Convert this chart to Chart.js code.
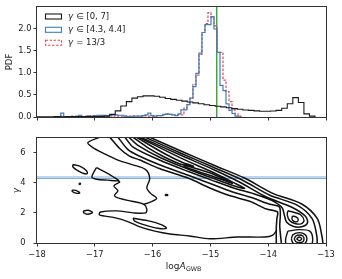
<!DOCTYPE html>
<html><head><meta charset="utf-8">
<script src="https://cdn.jsdelivr.net/npm/chart.js@4/dist/chart.umd.min.js"></script>
<style>
html,body{margin:0;padding:0;background:#fff;}
#wrap{position:relative;width:342px;height:279px;overflow:hidden;background:#fff;}
#c1{position:absolute;left:0;top:0;width:342px;height:125px;}
#c2{position:absolute;left:0;top:125px;width:342px;height:154px;}
</style></head><body>
<div id="wrap">
<canvas id="c1" width="342" height="125"></canvas>
<canvas id="c2" width="342" height="154"></canvas>
</div>
<script>
// ---------------- data ----------------
const xTicks = [-18, -17, -16, -15, -14, -13];
const pdfTicks = [0, 0.5, 1, 1.5, 2];
const gammaTicks = [0, 2, 4, 6];
const legendLabels = ['γ∈[0, 7]', 'γ∈[4.3, 4.4]', 'γ = 13/3'];
const trueLogA = -14.89;
const gammaBand = [4.3, 4.4];

// black histogram (gamma in [0,7])
const blackBinStart = -17.99, blackBinWidth = 0.096;
const blackPdf = [0.005,0.005,0.005,0.01,0.005,0.01,0.01,0.01,0.01,0.015,0.01,0.015,0.02,
  0.06,0.14,0.25,0.35,0.43,0.46,0.48,0.48,0.47,0.45,0.42,
  0.40,0.38,0.36,0.34,0.32,0.30,0.28,0.26,0.245,0.23,
  0.21,0.19,0.175,0.16,0.15,0.14,0.13,0.13,0.135,0.15,
  0.20,0.30,0.44,0.33,0.07,0.02];

// narrow-gamma histograms
const narrowBinStart = -17.59, narrowBinWidth = 0.052;
const bluePdf = [0.09,0.01,0.005,0.01,0.01,0.02,0.04,0.01,0.01,0.02,
  0.01,0.03,0.04,0.04,0.04,0.03,0.04,0.05,0.05,0.04,
  0.04,0.02,0.01,0.01,0.02,0.02,0.02,0.03,0.05,0.09,
  0.03,0.02,0.03,0.03,0.06,0.07,0.06,0.05,0.03,0.07,
  0.16,0.16,0.28,0.43,0.69,0.99,1.45,1.92,2.10,2.10,
  2.28,2.00,1.47,0.72,0.60,0.30,0.15,0.08,0.02,0.0];
const redPdf = [0.02,0.01,0.01,0.02,0.01,0.01,0.02,0.01,0.02,0.01,
  0.02,0.02,0.03,0.02,0.03,0.02,0.03,0.02,0.03,0.02,
  0.02,0.02,0.02,0.02,0.02,0.02,0.02,0.02,0.03,0.02,
  0.02,0.02,0.03,0.03,0.05,0.06,0.06,0.05,0.04,0.05,
  0.05,0.20,0.28,0.43,0.74,0.95,1.42,1.92,2.12,2.37,
  2.26,2.07,1.47,1.47,0.84,0.58,0.35,0.16,0.07,0.02];

// contour lines of the 2-D posterior (logA, gamma)
const contourOuterUpper = [[-16.05,7.05],[-15.5,6.12],[-14.95,5.2],[-14.41,4.33],[-13.92,3.31],[-13.42,2.6],[-13.15,1.62],[-13.07,0.45],[-13.05,-0.1]];
const contourOuterLower = [[-16.74,7.05],[-16.57,6.30],[-16.40,5.79],[-16.22,5.53],[-15.88,4.96],[-15.38,4.31],[-15.01,3.67],[-14.67,3.16],[-14.32,2.78],[-14.03,2.26],[-13.84,2.07],[-13.85,1.62],[-13.86,0.98],[-13.86,-0.1]];
const contourSecondUpper = [[-16.13,7.05],[-15.5,5.97],[-14.95,5.05],[-14.45,4.2],[-13.98,3.2],[-13.5,2.52],[-13.24,1.62],[-13.16,0.5],[-13.15,-0.1]];
const contourSecondLower = [[-16.60,7.05],[-16.43,6.24],[-16.26,5.85],[-15.88,5.21],[-15.38,4.51],[-14.98,3.93],[-14.63,3.42],[-14.29,3.03],[-13.97,2.58],[-13.81,2.42],[-13.79,1.94],[-13.80,1.11],[-13.77,-0.1]];
const contourThird = [[-16.21,7.05],[-15.5,5.83],[-14.95,4.9],[-14.5,4.07],[-14.05,3.1],[-13.6,2.4],[-13.36,1.8],[-13.32,1.35],[-13.42,1.08],[-13.56,1.1],[-13.68,1.38],[-13.72,1.85],[-13.76,2.35],[-13.94,2.84],[-14.25,3.29],[-14.6,3.67],[-14.98,4.19],[-15.38,4.76],[-15.88,5.53],[-16.33,6.37],[-16.48,7.05]];
const contourInner1 = [[-16.24,7.05],[-15.5,5.64],[-14.95,4.70],[-14.55,3.93],[-14.41,3.64],[-14.61,3.83],[-15.0,4.38],[-15.38,4.92],[-15.88,5.72],[-16.26,6.53],[-16.41,7.05]];
const contourInner2 = [[-16.28,7.05],[-15.79,5.95],[-15.48,5.37],[-15.29,5.12],[-15.48,5.21],[-15.79,5.72],[-16.05,6.27],[-16.34,7.05]];
const contourInner3 = [[-15.45,5.2],[-15.0,4.66],[-14.62,3.98],[-15.0,4.5],[-15.45,5.08],[-15.45,5.2]];
const lobeUpperOuter = [[-13.66,2.15],[-13.56,2.05],[-13.44,1.88],[-13.38,1.5],[-13.43,1.28],[-13.54,1.3],[-13.63,1.5],[-13.67,1.88],[-13.66,2.15]];
const lobeUpperInner = [[-13.58,1.80],[-13.52,1.74],[-13.48,1.58],[-13.50,1.42],[-13.56,1.46],[-13.59,1.62],[-13.58,1.80]];
const lobeLower0 = [[-13.66,0.79],[-13.47,0.89],[-13.28,0.79],[-13.23,0.21],[-13.28,-0.24],[-13.66,-0.24],[-13.70,0.21],[-13.66,0.79]];
const lobeLower1 = [[-13.60,0.28],[-13.57,0.56],[-13.46,0.69],[-13.36,0.56],[-13.33,0.28],[-13.36,-0.01],[-13.46,-0.14],[-13.57,-0.01],[-13.60,0.28]];
const lobeLower2 = [[-13.55,0.28],[-13.52,0.47],[-13.46,0.53],[-13.40,0.47],[-13.38,0.28],[-13.40,0.08],[-13.46,0.02],[-13.52,0.08],[-13.55,0.28]];
const lobeLower3 = [[-13.51,0.28],[-13.46,0.40],[-13.42,0.28],[-13.46,0.15],[-13.51,0.28]];
const wiggleA = [[-16.92,7.05],[-17.12,6.69],[-17.04,6.37],[-16.85,5.98],[-16.60,5.53],[-16.34,5.21],[-16.12,4.89],[-16.05,4.31],[-16.10,3.67],[-16.03,3.29],[-15.93,2.97],[-16.05,2.71],[-16.15,2.58]];
const lensB = [[-16.97,5.02],[-16.81,4.70],[-16.67,4.38],[-16.59,4.15],[-16.78,4.19],[-16.97,4.25],[-17.05,4.38],[-17.02,4.70],[-16.97,5.02]];
const wiggleC = [[-16.59,4.15],[-16.57,4.06],[-16.67,3.80],[-16.60,3.48],[-16.66,3.16],[-16.57,2.97],[-16.36,2.78],[-16.15,2.58],[-16.10,2.26],[-16.12,2.01],[-16.34,2.01],[-16.62,2.14],[-16.90,2.07],[-16.92,1.88],[-16.66,1.69],[-16.43,1.43],[-16.22,1.08],[-15.96,0.79],[-15.70,0.60],[-15.36,0.47],[-15.01,0.28],[-14.53,0.40],[-14.06,0.40],[-13.92,0.53],[-13.85,0.85]];
const lensF = [[-16.34,1.65],[-16.09,1.49],[-15.84,1.21],[-15.76,0.98],[-15.91,0.98],[-16.14,1.21],[-16.31,1.46],[-16.34,1.65]];
const islandE1 = [[-17.38,5.23],[-17.26,5.12],[-17.14,4.80],[-17.13,4.63],[-17.19,4.63],[-17.31,4.86],[-17.38,5.08],[-17.38,5.23]];
const islandE2 = [[-17.39,3.54],[-17.31,3.48],[-17.26,3.34],[-17.31,3.31],[-17.39,3.43],[-17.39,3.54]];
const islandE3 = [[-17.20,2.13],[-17.12,2.18],[-17.04,2.04],[-17.12,1.92],[-17.19,2.01],[-17.20,2.13]];
const dotD1 = [[-17.27,3.98],[-17.25,3.98],[-17.25,3.92],[-17.27,3.92],[-17.27,3.98]];
const dotD2 = [[-15.78,3.23],[-15.74,3.23],[-15.74,3.17],[-15.78,3.17],[-15.78,3.23]];

const bandLines = [contourOuterUpper, contourOuterLower, contourSecondUpper, contourSecondLower,
  contourThird, contourInner1, contourInner2, contourInner3];
const otherLines = [lobeUpperOuter, lobeUpperInner,
  lobeLower0, lobeLower1, lobeLower2, lobeLower3, wiggleA, lensB, wiggleC, lensF,
  islandE1, islandE2, islandE3, dotD1, dotD2];

// ---------------- helpers ----------------
const FONT = 'DejaVu Sans';
Chart.defaults.font.family = FONT;
Chart.defaults.font.size = 8.3;
Chart.defaults.color = '#222';

function stepPoints(start, width, vals) {
  const pts = [{x: start, y: 0}];
  vals.forEach((v, i) => pts.push({x: start + i * width, y: v}));
  const end = start + vals.length * width;
  pts.push({x: end, y: vals[vals.length - 1]});
  pts.push({x: end, y: 0});
  return pts;
}
const minus = v => (v < 0 ? '\u2212' + Math.abs(v) : String(v));

const framePlugin = {
  id: 'frame',
  afterDraw(chart) {
    const a = chart.chartArea, ctx = chart.ctx;
    ctx.save();
    ctx.strokeStyle = '#333'; ctx.lineWidth = 1;
    const l = Math.round(a.left) - 0.5, t = Math.round(a.top) - 0.5;
    const r = Math.round(a.right) + 0.5, b = Math.round(a.bottom) + 0.5;
    ctx.strokeRect(l, t, r - l, b - t);
    ctx.restore();
  }
};

function drawParts(ctx, parts, x, y) {
  let cx = x;
  parts.forEach(p => {
    ctx.font = (p.italic ? 'italic ' : '') + p.size + 'px "' + FONT + '"';
    ctx.fillText(p.text, cx, y + (p.dy || 0));
    cx += ctx.measureText(p.text).width + (p.gap || 0);
  });
  return cx;
}
function measureParts(ctx, parts) {
  let w = 0;
  parts.forEach(p => {
    ctx.font = (p.italic ? 'italic ' : '') + p.size + 'px "' + FONT + '"';
    w += ctx.measureText(p.text).width + (p.gap || 0);
  });
  return w;
}

const legendPlugin = {
  id: 'insideLegend',
  afterDraw(chart) {
    const ctx = chart.ctx;
    const rowsY = [16.5, 29.8, 42.8];
    const styles = [
      {color: '#1a1a1a', dash: []},
      {color: '#3a7fc0', dash: []},
      {color: '#e8474f', dash: [2.5, 1.5]}
    ];
    ctx.save();
    legendLabels.forEach((lab, i) => {
      const y = rowsY[i];
      ctx.strokeStyle = styles[i].color; ctx.lineWidth = 1.1;
      ctx.setLineDash(styles[i].dash);
      ctx.strokeRect(45.5, y - 2.5, 16, 5);
      ctx.setLineDash([]);
      ctx.fillStyle = '#222'; ctx.textBaseline = 'middle';
      const rest = lab.slice(1).replace('∈', ' ∈ ');
      drawParts(ctx, [{text: 'γ', italic: true, size: 8.5, gap: 0.5}, {text: rest, size: 8.5}], 68, y);
    });
    ctx.restore();
  }
};

const xTitlePlugin = {
  id: 'xTitle',
  afterDraw(chart) {
    const ctx = chart.ctx, a = chart.chartArea;
    ctx.save();
    ctx.fillStyle = '#222'; ctx.textBaseline = 'alphabetic';
    const parts = [{text: 'log', size: 9}, {text: 'A', italic: true, size: 9, gap: 0.3}, {text: 'GWB', size: 6.3, dy: 2}];
    const w = measureParts(ctx, parts);
    drawParts(ctx, parts, (a.left + a.right) / 2 + 2 - w / 2, 144);
    ctx.restore();
  }
};

const fixedTicks = list => (s => { s.ticks = list.map(v => ({value: v})); });

// ---------------- top chart ----------------
new Chart(document.getElementById('c1'), {
  type: 'scatter',
  data: {
    datasets: [
      {data: stepPoints(blackBinStart, blackBinWidth, blackPdf), showLine: true, stepped: 'before',
       borderColor: '#1a1a1a', borderWidth: 1.1, pointRadius: 0, backgroundColor: 'rgba(0,0,0,0)'},
      {data: stepPoints(narrowBinStart, narrowBinWidth, bluePdf), showLine: true, stepped: 'before',
       borderColor: '#3a7fc0', borderWidth: 1.2, pointRadius: 0, backgroundColor: 'rgba(0,0,0,0)'},
      {data: stepPoints(narrowBinStart, narrowBinWidth, redPdf), showLine: true, stepped: 'before',
       borderColor: '#e8474f', borderWidth: 1.2, borderDash: [2.5, 1.5], pointRadius: 0, backgroundColor: 'rgba(0,0,0,0)'},
      {data: [{x: trueLogA, y: 0}, {x: trueLogA, y: 2.5}], showLine: true,
       borderColor: '#22a022', borderWidth: 1.3, pointRadius: 0}
    ]
  },
  options: {
    responsive: false, animation: false, devicePixelRatio: 1,
    layout: {padding: {top: 6, right: 16, left: 0, bottom: 0}},
    plugins: {legend: {display: false}, tooltip: {enabled: false}},
    scales: {
      x: {type: 'linear', min: -18, max: -13,
          afterBuildTicks: fixedTicks(xTicks), afterFit: s => { s.height = 8; },
          ticks: {display: false},
          grid: {drawOnChartArea: false, tickLength: 3.5, color: '#333'},
          border: {display: false}},
      y: {type: 'linear', min: 0, max: 2.5,
          afterBuildTicks: fixedTicks(pdfTicks), afterFit: s => { s.width = 37; },
          ticks: {padding: 2, callback: v => v.toFixed(1)},
          grid: {drawOnChartArea: false, tickLength: 3.5, color: '#333'},
          border: {display: false},
          title: {display: true, text: 'PDF', font: {size: 8.5}, padding: {top: 5, bottom: 0}}}
    }
  },
  plugins: [framePlugin, legendPlugin]
});

// ---------------- bottom chart ----------------
const toDataset = width => line => ({
  data: line.map(([x, y]) => ({x, y})), showLine: true, pointRadius: 0,
  borderColor: '#111', borderWidth: width, tension: 0.3, backgroundColor: 'rgba(0,0,0,0)'
});
const contourDatasets = bandLines.map(toDataset(1.55)).concat(otherLines.map(toDataset(1.4)));
const bandDatasets = gammaBand.map(g => ({
  data: [{x: -18, y: g}, {x: -13, y: g}], showLine: true, pointRadius: 0,
  borderColor: 'rgba(58,127,192,0.65)', borderWidth: 1
}));

new Chart(document.getElementById('c2'), {
  type: 'scatter',
  data: {datasets: contourDatasets.concat(bandDatasets)},
  options: {
    responsive: false, animation: false, devicePixelRatio: 1,
    layout: {padding: {top: 9, right: 16, left: 0, bottom: 0}},
    plugins: {legend: {display: false}, tooltip: {enabled: false}},
    scales: {
      x: {type: 'linear', min: -18, max: -13,
          afterBuildTicks: fixedTicks(xTicks), afterFit: s => { s.height = 36; },
          ticks: {padding: 3, callback: v => minus(v), maxRotation: 0},
          grid: {drawOnChartArea: false, tickLength: 3.5, color: '#333'},
          border: {display: false}},
      y: {type: 'linear', min: 0, max: 7,
          afterBuildTicks: fixedTicks(gammaTicks), afterFit: s => { s.width = 37; },
          ticks: {padding: 8, callback: v => String(v)},
          grid: {drawOnChartArea: false, tickLength: 3.5, color: '#333'},
          border: {display: false},
          title: {display: true, text: 'γ', font: {size: 9, style: 'italic'}, padding: {top: 11, bottom: 0}}}
    }
  },
  plugins: [framePlugin, xTitlePlugin]
});
</script>
</body></html>
